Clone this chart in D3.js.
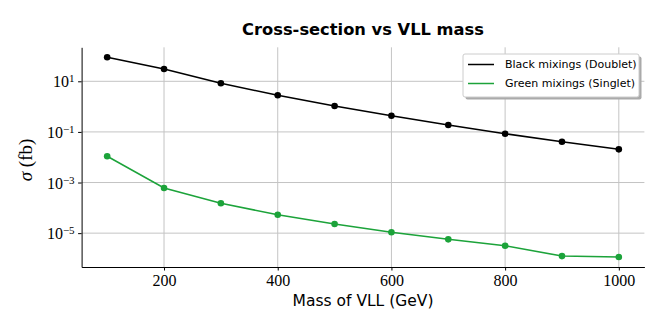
<!DOCTYPE html>
<html>
<head>
<meta charset="utf-8">
<script src="https://cdn.jsdelivr.net/npm/d3@7"></script>
<style>
  body { margin: 0; background: #fff; }
  svg { display: block; }
</style>
</head>
<body>
<div id="container"></div>
<script>
/* DATA */
const masses = [100, 200, 300, 400, 500, 600, 700, 800, 900, 1000];
const doublet = [88.9, 30.6, 8.34, 2.80, 1.06, 0.436, 0.187, 0.0849, 0.041, 0.0205];
const singlet = [0.0109, 6.07e-4, 1.51e-4, 5.33e-5, 2.29e-5, 1.08e-5, 5.69e-6, 3.18e-6, 1.24e-6, 1.14e-6];
const xTicks = [200, 400, 600, 800, 1000];
const yTicks = [1e1, 1e-1, 1e-3, 1e-5];
const seriesNames = ["Black mixings (Doublet)", "Green mixings (Singlet)"];

/* CONSTANTS */
const width = 664, height = 332,
  margin = { top: 47.3, bottom: 65, left: 81.6, right: 19.6 };
const green = "#1ca33a";
const gridColor = "#c4c4c4";
const serif = "'Liberation Serif', 'DejaVu Serif', serif";
const sans = "'DejaVu Sans', sans-serif";

const svg = d3.select("#container")
  .append("svg")
  .attr("width", width)
  .attr("height", height);

// SCALES (matplotlib-like 5% padding)
const xPad = (d3.max(masses) - d3.min(masses)) * 0.05;
const xScale = d3.scaleLinear()
  .domain([d3.min(masses) - xPad, d3.max(masses) + xPad])
  .range([margin.left, width - margin.right]);

const allY = doublet.concat(singlet);
const lo = Math.log10(d3.min(allY)), hi = Math.log10(d3.max(allY));
const yPad = (hi - lo) * 0.05;
const yScale = d3.scaleLog()
  .domain([Math.pow(10, lo - yPad), Math.pow(10, hi + yPad)])
  .range([height - margin.bottom, margin.top]);

// GRID
svg.append("g")
  .selectAll("line.vgrid")
  .data(xTicks)
  .join("line")
  .attr("x1", d => xScale(d)).attr("x2", d => xScale(d))
  .attr("y1", margin.top).attr("y2", height - margin.bottom)
  .attr("stroke", gridColor).attr("stroke-width", 1);

svg.append("g")
  .selectAll("line.hgrid")
  .data(yTicks)
  .join("line")
  .attr("x1", margin.left).attr("x2", width - margin.right)
  .attr("y1", d => yScale(d)).attr("y2", d => yScale(d))
  .attr("stroke", gridColor).attr("stroke-width", 1);

// AXES
const xAxis = svg.append("g")
  .attr("transform", `translate(0, ${height - margin.bottom})`)
  .call(d3.axisBottom(xScale).tickValues(xTicks).tickSize(3.5).tickSizeOuter(0)
    .tickPadding(4).tickFormat(d3.format("d")));
xAxis.selectAll("text")
  .attr("font-family", serif).attr("font-size", 16).attr("fill", "#000");

const yAxis = svg.append("g")
  .attr("transform", `translate(${margin.left}, 0)`)
  .call(d3.axisLeft(yScale).tickValues(yTicks).tickSize(3.5).tickSizeOuter(0).tickFormat(""));
yAxis.selectAll(".tick").each(function (d) {
  const t = d3.select(this).append("text")
    .attr("x", -7).attr("dy", "0.35em")
    .attr("text-anchor", "end")
    .attr("font-family", serif).attr("font-size", 16).attr("fill", "#000");
  t.append("tspan").text("10");
  t.append("tspan").attr("dy", "-0.45em").attr("font-size", 11)
    .text(String(Math.round(Math.log10(d))).replace("-", "\u2212"));
});
svg.selectAll(".domain").attr("stroke", "#000").attr("stroke-width", 1);
svg.selectAll(".tick line").attr("stroke", "#000");

// LINES
const lineGen = d3.line()
  .x((d, i) => xScale(masses[i]))
  .y(d => yScale(d));

[[doublet, "#000"], [singlet, green]].forEach(([vals, color]) => {
  svg.append("path")
    .datum(vals)
    .attr("d", lineGen)
    .attr("fill", "none")
    .attr("stroke", color)
    .attr("stroke-width", 1.5);
  svg.append("g")
    .selectAll("circle")
    .data(vals)
    .join("circle")
    .attr("cx", (d, i) => xScale(masses[i]))
    .attr("cy", d => yScale(d))
    .attr("r", 3.3)
    .attr("fill", color);
});

// TITLE AND LABELS
svg.append("text")
  .attr("x", (margin.left + width - margin.right) / 2)
  .attr("y", 35)
  .attr("text-anchor", "middle")
  .attr("font-family", sans).attr("font-weight", "bold").attr("font-size", 16.3)
  .text("Cross-section vs VLL mass");

svg.append("text")
  .attr("x", (margin.left + width - margin.right) / 2)
  .attr("y", 306)
  .attr("text-anchor", "middle")
  .attr("font-family", sans).attr("font-size", 15.5)
  .text("Mass of VLL (GeV)");

const yl = svg.append("text")
  .attr("transform", `translate(32, 160) rotate(-90)`)
  .attr("text-anchor", "middle")
  .attr("font-family", serif).attr("font-size", 19);
yl.append("tspan").attr("font-style", "italic").text("σ");
yl.append("tspan").text(" (fb)");

// LEGEND
const lg = svg.append("g").attr("transform", "translate(463, 54)");
lg.append("rect")
  .attr("x", 2.5).attr("y", 2.5).attr("width", 176).attr("height", 43)
  .attr("fill", "#aaa").attr("rx", 2);
lg.append("rect")
  .attr("width", 176).attr("height", 43)
  .attr("fill", "#fff").attr("stroke", "#ccc").attr("rx", 2);
const items = lg.selectAll("g.item")
  .data(seriesNames)
  .join("g")
  .attr("transform", (d, i) => `translate(0, ${10.5 + i * 19})`);
items.append("line")
  .attr("x1", 5).attr("x2", 31)
  .attr("stroke", (d, i) => i === 0 ? "#000" : green)
  .attr("stroke-width", 1.5);
items.append("text")
  .attr("x", 42).attr("dy", "0.35em")
  .attr("font-family", sans).attr("font-size", 11)
  .text(d => d);
</script>
</body>
</html>
